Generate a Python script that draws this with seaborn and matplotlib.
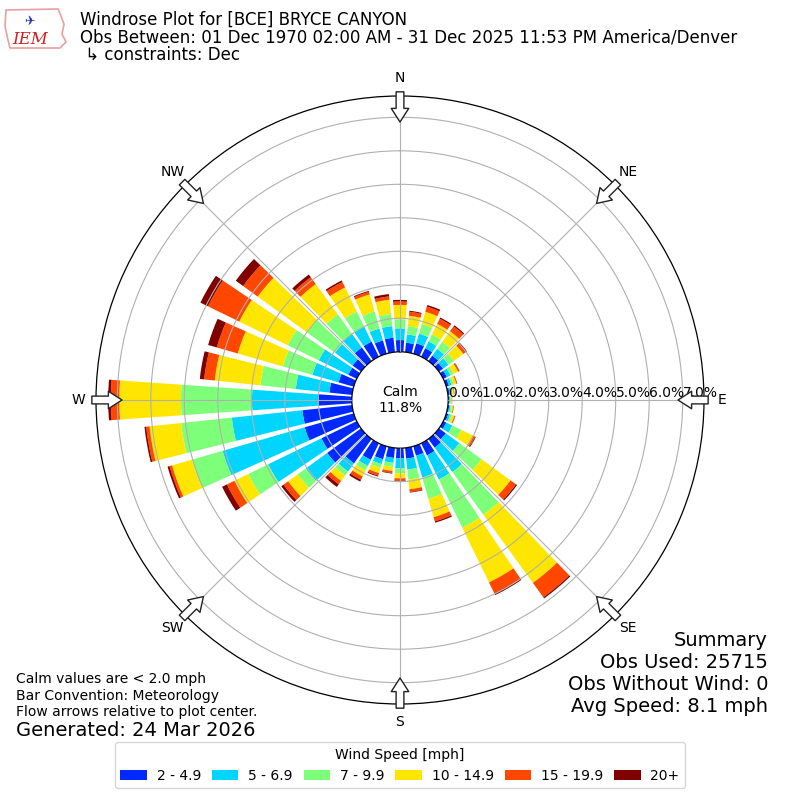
import numpy as np
import matplotlib
matplotlib.use("Agg")
import matplotlib.pyplot as plt
from matplotlib.patches import Patch, Polygon
import seaborn as sns
import pandas as pd

# ---------------- data ----------------
directions = list(range(0, 360, 10))
speed_labels = ["2 - 4.9", "5 - 6.9", "7 - 9.9", "10 - 14.9", "15 - 19.9", "20+"]
compass_labels = ["N", "NE", "E", "SE", "S", "SW", "W", "NW"]
ring_values = [0, 1, 2, 3, 4, 5, 6, 7]

spd_2_5 = [0.35, 0.28, 0.32, 0.28, 0.20, 0.15, 0.12, 0.08, 0.05, 0.03, 0.04, 0.06,
           0.10, 0.25, 0.32, 0.40, 0.29, 0.32, 0.30, 0.30, 0.40, 0.55, 0.90, 1.25,
           1.17, 1.52, 1.49, 1.00, 0.68, 0.47, 0.28, 0.31, 0.50, 0.50, 0.41, 0.43]
spd_5_7 = [0.35, 0.25, 0.30, 0.23, 0.25, 0.20, 0.12, 0.08, 0.05, 0.03, 0.04, 0.06,
           0.20, 0.50, 0.90, 0.80, 0.68, 0.33, 0.30, 0.15, 0.15, 0.20, 0.30, 0.79,
           1.77, 2.55, 2.12, 1.98, 1.01, 0.81, 0.98, 0.65, 0.50, 0.50, 0.37, 0.35]
spd_7_10 = [0.27, 0.25, 0.30, 0.23, 0.26, 0.20, 0.10, 0.07, 0.04, 0.03, 0.04, 0.06,
            0.30, 0.82, 1.58, 1.60, 0.66, 0.30, 0.15, 0.12, 0.12, 0.15, 0.15, 0.30,
            0.66, 0.95, 1.52, 2.12, 1.06, 0.92, 1.03, 1.04, 0.72, 0.50, 0.53, 0.36]
spd_10_15 = [0.43, 0.31, 0.38, 0.35, 0.39, 0.35, 0.15, 0.08, 0.04, 0.02, 0.04, 0.07,
             0.38, 1.07, 2.51, 1.82, 0.57, 0.29, 0.15, 0.12, 0.16, 0.20, 0.20, 0.35,
             0.46, 0.62, 0.95, 1.84, 1.37, 1.40, 1.61, 1.81, 1.12, 0.80, 0.53, 0.43]
spd_15_20 = [0.10, 0.12, 0.16, 0.17, 0.18, 0.10, 0.04, 0.02, 0.015, 0.01, 0.015, 0.025,
             0.08, 0.20, 0.53, 0.38, 0.13, 0.08, 0.07, 0.06, 0.08, 0.11, 0.12, 0.17,
             0.25, 0.08, 0.10, 0.25, 0.32, 0.65, 1.04, 0.54, 0.25, 0.18, 0.08, 0.10]
spd_20p = [0.05, 0.03, 0.05, 0.04, 0.04, 0.03, 0.01, 0.01, 0.005, 0.0, 0.005, 0.005,
           0.02, 0.04, 0.04, 0.04, 0.04, 0.02, 0.02, 0.02, 0.03, 0.06, 0.10, 0.08,
           0.16, 0.06, 0.05, 0.08, 0.13, 0.27, 0.25, 0.27, 0.10, 0.05, 0.03, 0.07]

calm_pct = 11.8
obs_used = 25715
obs_without_wind = 0
avg_speed = 8.1

df = pd.DataFrame({"dir": directions, speed_labels[0]: spd_2_5, speed_labels[1]: spd_5_7,
                   speed_labels[2]: spd_7_10, speed_labels[3]: spd_10_15,
                   speed_labels[4]: spd_15_20, speed_labels[5]: spd_20p})

# ---------------- style ----------------
sns.set_theme(style="white")
plt.rcParams["font.family"] = ["DejaVu Sans"]
plt.rcParams["text.color"] = "black"
plt.rcParams["axes.labelcolor"] = "black"
plt.rcParams["xtick.color"] = "black"
plt.rcParams["ytick.color"] = "black"
jet = matplotlib.colormaps["jet"]
colors = [jet(v) for v in np.linspace(0, 1, 7)[1:]]

fig = plt.figure(figsize=(8, 8), dpi=100)
ax = fig.add_axes([0.12, 0.12, 0.76, 0.76], projection="polar")
ax.set_theta_zero_location("N")
ax.set_theta_direction(-1)
ax.set_rorigin(-1.4388)
ax.set_ylim(0, 7.6358)

theta = np.radians(df["dir"].values)
width = np.radians(8.0)
bottom = np.zeros(len(df))
for lab, col in zip(speed_labels, colors):
    vals = df[lab].values
    ax.bar(theta, vals, width=width, bottom=bottom, color=col, linewidth=0,
           align="center", zorder=1)
    bottom = bottom + vals

# grid
ax.set_axisbelow(False)
ax.set_rticks(ring_values[1:])
ax.set_yticklabels([])
ax.yaxis.grid(True, color="#b0b0b0", linewidth=0.8)
ax.xaxis.grid(True, color="#b0b0b0", linewidth=0.8)
ax.set_xticks(np.radians(np.arange(0, 360, 45)))
ax.set_xticklabels(compass_labels)
ax.tick_params(axis="x", labelsize=10, pad=0, colors="black")
for sp in ax.spines.values():
    sp.set_edgecolor("black")
    sp.set_linewidth(0.9)
ax.set_facecolor("white")

for rv in ring_values:
    ax.text(np.radians(90), rv, f"{rv:.1f}%", ha="left", va="bottom", fontsize=10,
            color="black", zorder=5)

ax.text(0.5, 0.5, f"Calm\n{calm_pct:.1f}%", transform=ax.transAxes, ha="center",
        va="center", fontsize=10, zorder=6, color="black")

# flow arrows at the rim, pointing toward the center
for d in np.arange(0, 360, 45):
    ax.annotate("", xy=(np.radians(d), 6.86), xytext=(np.radians(d), 7.76),
                arrowprops=dict(arrowstyle="simple,head_length=0.7,head_width=0.9,tail_width=0.4",
                                fc="white", ec="#222222", lw=1.0, shrinkA=0, shrinkB=0,
                                mutation_scale=14),
                annotation_clip=False, zorder=8)

# ---------------- texts ----------------
fig.text(80 / 800, 1 - 20 / 800, "Windrose Plot for [BCE] BRYCE CANYON", fontsize=12, va="center")
fig.text(80 / 800, 1 - 38 / 800,
         "Obs Between: 01 Dec 1970 02:00 AM - 31 Dec 2025 11:53 PM America/Denver",
         fontsize=12, va="center")
fig.text(80 / 800, 1 - 55 / 800, " \u21b3 constraints: Dec", fontsize=12, va="center")

fig.text(16 / 800, 1 - 679 / 800, "Calm values are < 2.0 mph", fontsize=10, va="center")
fig.text(16 / 800, 1 - 696 / 800, "Bar Convention: Meteorology", fontsize=10, va="center")
fig.text(16 / 800, 1 - 712 / 800, "Flow arrows relative to plot center.", fontsize=10, va="center")
fig.text(16 / 800, 1 - 730 / 800, "Generated: 24 Mar 2026", fontsize=14, va="center")

summary = ["Summary", f"Obs Used: {obs_used}", f"Obs Without Wind: {obs_without_wind}",
           f"Avg Speed: {avg_speed} mph"]
for i, s in enumerate(summary):
    fig.text(768 / 800, 1 - (640 + 22 * i) / 800, s, fontsize=14, ha="right", va="center")

# logo (approximation)
iowa = np.array([[6, 10], [58, 9], [61, 16], [64, 24], [62, 34], [66, 42], [60, 48],
                 [10, 48], [8, 40], [5, 26], [6, 10]], dtype=float)
iowa[:, 0] /= 800
iowa[:, 1] = 1 - iowa[:, 1] / 800
fig.patches.append(Polygon(iowa, closed=True, fill=False, ec="#e8a0a0", lw=1.2,
                           transform=fig.transFigure))
fig.text(30 / 800, 1 - 39 / 800, "IEM", fontsize=12, color="#d02020", ha="center",
         va="center", family="DejaVu Serif", style="italic")
fig.text(30 / 800, 1 - 22 / 800, "\u2708", fontsize=9, color="#2030c0", ha="center", va="center")

# legend
handles = [Patch(facecolor=c, edgecolor="none", label=l) for c, l in zip(colors, speed_labels)]
fig.legend(handles=handles, loc="lower center", bbox_to_anchor=(0.5, 0.006), ncol=6,
           title="Wind Speed [mph]", fontsize=10, title_fontsize=10, frameon=True,
           edgecolor="#cccccc", fancybox=True, handlelength=1.9, handletextpad=0.7,
           columnspacing=0.8)

fig.savefig("out.png", dpi=100, facecolor="white")
